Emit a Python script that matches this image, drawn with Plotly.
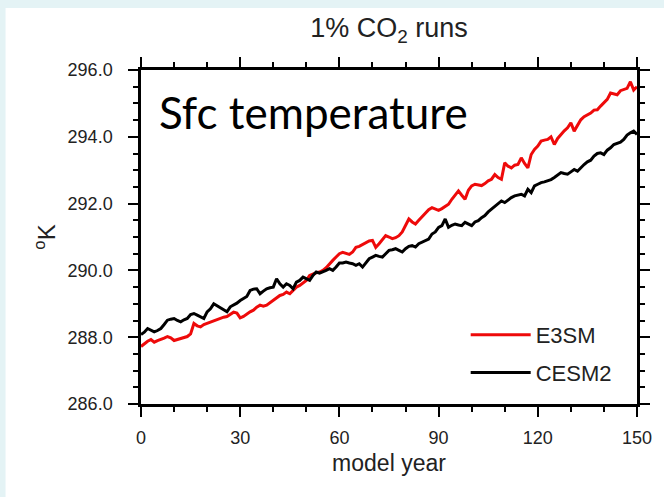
import plotly.graph_objects as go

years = list(range(0, 151))

e3sm = [
    287.72, 287.80, 287.88, 287.93, 287.85, 287.90, 287.93, 287.97, 288.02, 287.98,
    287.90, 287.93, 287.95, 287.98, 288.02, 288.10, 288.41, 288.34, 288.31, 288.38,
    288.42, 288.46, 288.48, 288.52, 288.58, 288.60, 288.62, 288.68, 288.75, 288.72,
    288.58, 288.62, 288.70, 288.76, 288.81, 288.90, 288.96, 288.93, 288.96, 289.03,
    289.10, 289.18, 289.25, 289.28, 289.35, 289.30, 289.40, 289.50, 289.55, 289.62,
    289.70, 289.85, 289.90, 289.93, 289.95, 290.00, 290.08, 290.20, 290.30, 290.40,
    290.50, 290.54, 290.52, 290.48, 290.55, 290.69, 290.72, 290.78, 290.84, 290.88,
    290.90, 290.69, 290.80, 290.92, 291.04, 291.00, 290.95, 290.98, 291.04, 291.15,
    291.35, 291.54, 291.45, 291.39, 291.50, 291.60, 291.70, 291.82, 291.88, 291.84,
    291.80, 291.85, 291.92, 291.98, 292.13, 292.25, 292.38, 292.25, 292.13, 292.40,
    292.53, 292.58, 292.56, 292.54, 292.60, 292.68, 292.73, 292.87, 292.78, 292.73,
    293.22, 293.12, 293.07, 293.15, 293.17, 293.37, 293.20, 293.07, 293.47, 293.62,
    293.72, 293.87, 293.90, 293.92, 294.00, 293.77, 293.95, 294.07, 294.18, 294.27,
    294.42, 294.17, 294.35, 294.51, 294.60, 294.66, 294.71, 294.80, 294.81, 294.92,
    295.01, 295.12, 295.31, 295.28, 295.26, 295.38, 295.42, 295.45, 295.65, 295.40,
    295.50,
]

cesm2 = [
    288.08, 288.15, 288.26, 288.22, 288.16, 288.20, 288.26, 288.38, 288.51, 288.54,
    288.56, 288.50, 288.46, 288.52, 288.56, 288.68, 288.71, 288.66, 288.60, 288.56,
    288.76, 288.85, 289.00, 288.94, 288.86, 288.80, 288.76, 288.91, 288.96, 289.02,
    289.10, 289.15, 289.22, 289.40, 289.44, 289.45, 289.30, 289.38, 289.45, 289.48,
    289.50, 289.75, 289.60, 289.50, 289.60, 289.55, 289.45, 289.65, 289.70, 289.80,
    289.75, 289.70, 289.85, 289.95, 289.92, 289.95, 290.00, 290.05, 290.00, 290.10,
    290.22, 290.22, 290.25, 290.22, 290.20, 290.15, 290.20, 290.10, 290.22, 290.35,
    290.40, 290.45, 290.42, 290.40, 290.50, 290.60, 290.62, 290.65, 290.60, 290.55,
    290.65, 290.72, 290.74, 290.70, 290.80, 290.84, 290.90, 290.94, 291.09, 291.15,
    291.29, 291.34, 291.54, 291.29, 291.35, 291.39, 291.36, 291.34, 291.44, 291.40,
    291.34, 291.45, 291.49, 291.58, 291.64, 291.75, 291.84, 291.93, 292.00, 292.08,
    292.03, 292.12, 292.18, 292.23, 292.26, 292.28, 292.23, 292.43, 292.33, 292.53,
    292.58, 292.63, 292.65, 292.68, 292.72, 292.78, 292.85, 292.93, 292.90, 292.88,
    292.95, 293.02, 292.97, 293.08, 293.17, 293.25, 293.30, 293.42, 293.50, 293.52,
    293.47, 293.60, 293.67, 293.77, 293.80, 293.84, 293.92, 294.05, 294.12, 294.17,
    294.07,
]

series_names = ["E3SM", "CESM2"]
series_colors = ["#ee0a0a", "#000000"]

x_ticks = [0, 30, 60, 90, 120, 150]
y_ticks = [286.0, 288.0, 290.0, 292.0, 294.0, 296.0]

W, H = 664, 497
L, R, T, B = 141, 25, 70, 93
pw, ph = W - L - R, H - T - B


def px_x(p):
    return (p - L) / pw


def px_y(p):
    return (H - B - p) / ph


fig = go.Figure()
for name, vals, col in zip(series_names, [e3sm, cesm2], series_colors):
    fig.add_trace(go.Scatter(x=years, y=vals, mode="lines", name=name, legendgroup=name,
                             line=dict(color=col, width=3)))

axis_common = dict(
    showline=True, linecolor="black", linewidth=2.5, mirror="allticks",
    ticks="outside", ticklen=10, tickwidth=2, tickcolor="black",
    showgrid=False, zeroline=False,
    tickfont=dict(family="Liberation Sans, Arial", size=18, color="#222"),
)

fig.update_xaxes(range=[0, 150], tickvals=x_ticks, ticktext=[str(v) for v in x_ticks],
                 ticklabelstandoff=6,
                 minor=dict(dtick=10, tick0=0, ticks="outside", ticklen=5, tickwidth=2, tickcolor="black"),
                 title=dict(text="model year", font=dict(family="Liberation Sans, Arial", size=23, color="#222"), standoff=8),
                 **axis_common)
fig.update_yaxes(range=[286, 296], tickvals=y_ticks, ticktext=[f"{v:.1f}" for v in y_ticks],
                 ticklabelstandoff=12,
                 minor=dict(dtick=0.5, tick0=286, ticks="outside", ticklen=5, tickwidth=2, tickcolor="black"),
                 title=dict(text="<sup>o</sup>K", font=dict(family="Liberation Sans, Arial", size=24, color="#222"), standoff=6),
                 **axis_common)

fig.update_layout(
    width=W, height=H,
    margin=dict(l=L, r=R, t=T, b=B),
    paper_bgcolor="#e4f3f5",
    plot_bgcolor="white",
    title=dict(text="1% CO<sub>2</sub> runs", x=0.5, xref="paper", y=1 - 28 / H, yanchor="middle",
               font=dict(family="Liberation Sans, Arial", size=27, color="#222")),
    showlegend=True,
    legend=dict(x=px_x(467), y=px_y(314), xanchor="left", yanchor="top",
                bgcolor="rgba(0,0,0,0)", itemwidth=60,
                font=dict(family="Liberation Sans, Arial", size=22, color="#222"),
                tracegroupgap=6),
    shapes=[dict(type="rect", xref="paper", yref="paper", layer="below",
                 x0=px_x(5), x1=px_x(W + 5), y0=px_y(H + 5), y1=px_y(8),
                 fillcolor="white", line=dict(width=0))],
    annotations=[dict(text="Sfc temperature", xref="paper", yref="paper",
                      x=px_x(157), y=px_y(112), xanchor="left", yanchor="middle",
                      showarrow=False,
                      font=dict(family="Lato, Open Sans", size=44, color="black"))],
)

fig.write_html("out.html")
